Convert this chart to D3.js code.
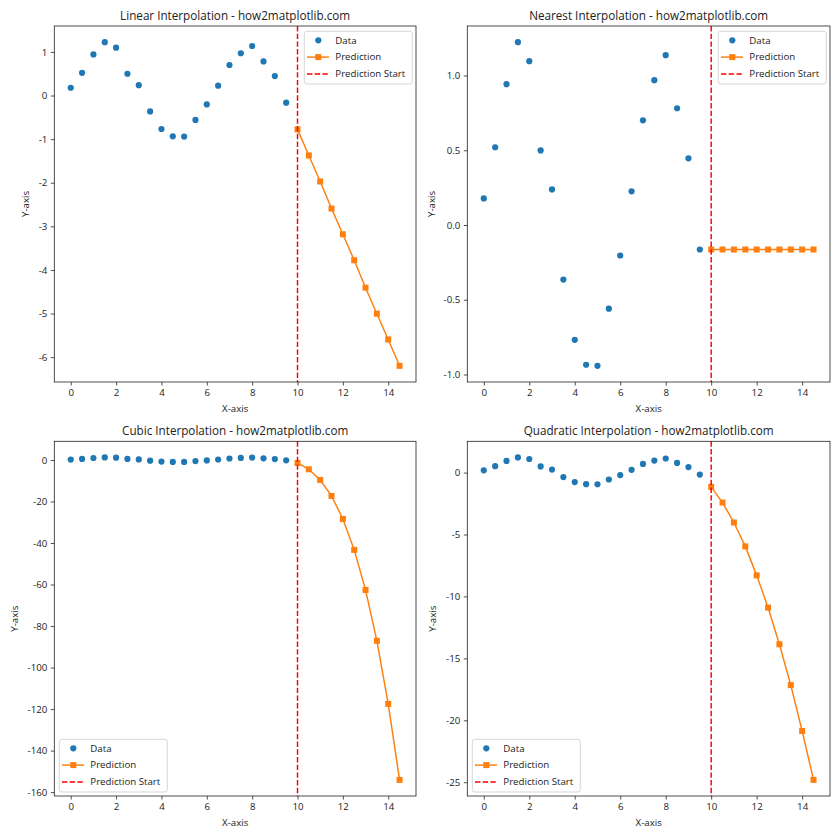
<!DOCTYPE html>
<html>
<head>
<meta charset="utf-8">
<script src="https://cdn.jsdelivr.net/npm/d3@7"></script>
<style>
  html, body { margin: 0; padding: 0; background: #fff; }
  svg { display: block; }
  text { font-family: "Open Sans", "Noto Sans", "DejaVu Sans", sans-serif; fill: #222; }
</style>
</head>
<body>
<svg id="chart" width="840" height="840"></svg>
<script>
// ---- data ----
const xData = [0, 0.5, 1, 1.5, 2, 2.5, 3, 3.5, 4, 4.5, 5, 5.5, 6, 6.5, 7, 7.5, 8, 8.5, 9, 9.5];
const yData = [0.178, 0.520, 0.942, 1.223, 1.096, 0.499, 0.238, -0.365, -0.768, -0.935,
               -0.942, -0.560, -0.204, 0.225, 0.700, 0.969, 1.136, 0.781, 0.446, -0.164];
const xPred = [10, 10.5, 11, 11.5, 12, 12.5, 13, 13.5, 14, 14.5];
const predLinear = [-0.777, -1.374, -1.971, -2.591, -3.181, -3.778, -4.406, -5.003, -5.593, -6.198];
const predNearest = [-0.164, -0.164, -0.164, -0.164, -0.164, -0.164, -0.164, -0.164, -0.164, -0.164];
const predCubic = [-1.44, -4.49, -9.63, -17.33, -28.4, -43.3, -62.6, -87.1, -117.5, -154.1];
const predQuadratic = [-1.15, -2.42, -4.03, -5.96, -8.30, -10.90, -13.86, -17.16, -20.86, -24.81];
const predictionStart = 10;

const titles = ["Linear Interpolation - how2matplotlib.com", "Nearest Interpolation - how2matplotlib.com",
                "Cubic Interpolation - how2matplotlib.com", "Quadratic Interpolation - how2matplotlib.com"];
const predictions = [predLinear, predNearest, predCubic, predQuadratic];
const xTicks = [0, 2, 4, 6, 8, 10, 12, 14];
const yTicksList = [
  [1, 0, -1, -2, -3, -4, -5, -6],
  [1.0, 0.5, 0.0, -0.5, -1.0],
  [0, -20, -40, -60, -80, -100, -120, -140, -160],
  [0, -5, -10, -15, -20, -25]
];
const yTickDecimals = [0, 1, 0, 0];
const legendLabels = ["Data", "Prediction", "Prediction Start"];
const legendPos = ["upper right", "upper right", "lower left", "lower left"];

// ---- layout ----
const panels = [
  {L: 54.3, R: 416, T: 26, B: 382, ylabX: 25},
  {L: 467.3, R: 830, T: 26, B: 382, ylabX: 431},
  {L: 54.3, R: 416, T: 441.3, B: 796, ylabX: 14},
  {L: 467.3, R: 830, T: 441.3, B: 796, ylabX: 432.3}
];
const blue = "#1f77b4", orange = "#ff7f0e";
const svg = d3.select("#chart");
const FONT = "'Open Sans', 'Noto Sans', sans-serif";

function padDomain(lo, hi) { const m = (hi - lo) * 0.05; return [lo - m, hi + m]; }

panels.forEach((p, i) => {
  const pred = predictions[i];
  const allX = xData.concat(xPred);
  const allY = yData.concat(pred);
  const x = d3.scaleLinear().domain(padDomain(d3.min(allX), d3.max(allX))).range([p.L, p.R]);
  const y = d3.scaleLinear().domain(padDomain(d3.min(allY), d3.max(allY))).range([p.B, p.T]);
  const g = svg.append("g");

  const fmt = d => d.toFixed(yTickDecimals[i]);
  const xAxis = g.append("g").attr("transform", `translate(0,${p.B})`)
    .call(d3.axisBottom(x).tickValues(xTicks).tickSize(3.5).tickPadding(3.5).tickFormat(d3.format("d")));
  const yAxis = g.append("g").attr("transform", `translate(${p.L},0)`)
    .call(d3.axisLeft(y).tickValues(yTicksList[i]).tickSize(3.5).tickPadding(3.5).tickFormat(fmt));
  [xAxis, yAxis].forEach(a => {
    a.select(".domain").remove();
    a.selectAll("line").attr("stroke", "#222").attr("stroke-width", 0.8);
    a.selectAll("text").style("font-size", "9.7px").style("font-family", FONT).attr("fill", "#222");
  });

  // data points
  g.append("g").selectAll("circle").data(xData).join("circle")
    .attr("cx", (d) => x(d)).attr("cy", (d, j) => y(yData[j])).attr("r", 3.1).attr("fill", blue);

  // prediction line
  const line = d3.line().x(d => x(d[0])).y(d => y(d[1]));
  const pts = xPred.map((d, j) => [d, pred[j]]);
  g.append("path").datum(pts).attr("d", line).attr("fill", "none").attr("stroke", orange).attr("stroke-width", 1.46);
  g.append("g").selectAll("rect").data(pts).join("rect")
    .attr("x", d => x(d[0]) - 3).attr("y", d => y(d[1]) - 3).attr("width", 6).attr("height", 6).attr("fill", orange);

  // vertical start line
  g.append("line").attr("x1", x(predictionStart)).attr("x2", x(predictionStart))
    .attr("y1", p.T).attr("y2", p.B).attr("stroke", "red").attr("stroke-width", 1.46).attr("stroke-dasharray", "5.4,2.3");

  // frame
  g.append("rect").attr("x", p.L).attr("y", p.T).attr("width", p.R - p.L).attr("height", p.B - p.T)
    .attr("fill", "none").attr("stroke", "#222").attr("stroke-width", 0.8);

  // title & labels
  g.append("text").attr("x", (p.L + p.R) / 2).attr("y", p.T - 6.3).attr("text-anchor", "middle")
    .style("font-size", "11.7px").text(titles[i]);
  g.append("text").attr("x", (p.L + p.R) / 2).attr("y", p.B + 30).attr("text-anchor", "middle")
    .style("font-size", "9.7px").text("X-axis");
  g.append("text").attr("transform", `translate(${p.ylabX + 3.5},${(p.T + p.B) / 2}) rotate(-90)`)
    .attr("text-anchor", "middle").style("font-size", "9.7px").text("Y-axis");

  // legend
  const lw = 108, lh = 52.7;
  let lx, ly;
  if (legendPos[i] === "upper right") { lx = p.R - 3.7 - lw; ly = p.T + 5.3; }
  else { lx = p.L + 5; ly = p.B - 4 - lh; }
  const lg = g.append("g").attr("transform", `translate(${lx},${ly})`);
  lg.append("rect").attr("width", lw).attr("height", lh).attr("rx", 2.5)
    .attr("fill", "white").attr("fill-opacity", 0.8).attr("stroke", "#cccccc").attr("stroke-width", 0.8);
  const rows = [9, 25.8, 42.7];
  lg.append("circle").attr("cx", 14).attr("cy", rows[0]).attr("r", 3.1).attr("fill", blue);
  lg.append("line").attr("x1", 2.7).attr("x2", 24.7).attr("y1", rows[1]).attr("y2", rows[1])
    .attr("stroke", orange).attr("stroke-width", 1.46);
  lg.append("rect").attr("x", 14 - 3).attr("y", rows[1] - 3).attr("width", 6).attr("height", 6).attr("fill", orange);
  lg.append("line").attr("x1", 2.7).attr("x2", 24.7).attr("y1", rows[2]).attr("y2", rows[2])
    .attr("stroke", "red").attr("stroke-width", 1.46).attr("stroke-dasharray", "5.4,2.3");
  legendLabels.forEach((t, k) => {
    lg.append("text").attr("x", 31).attr("y", rows[k]).attr("dy", "0.35em")
      .style("font-size", "9.7px").text(t);
  });
});
</script>
</body>
</html>
